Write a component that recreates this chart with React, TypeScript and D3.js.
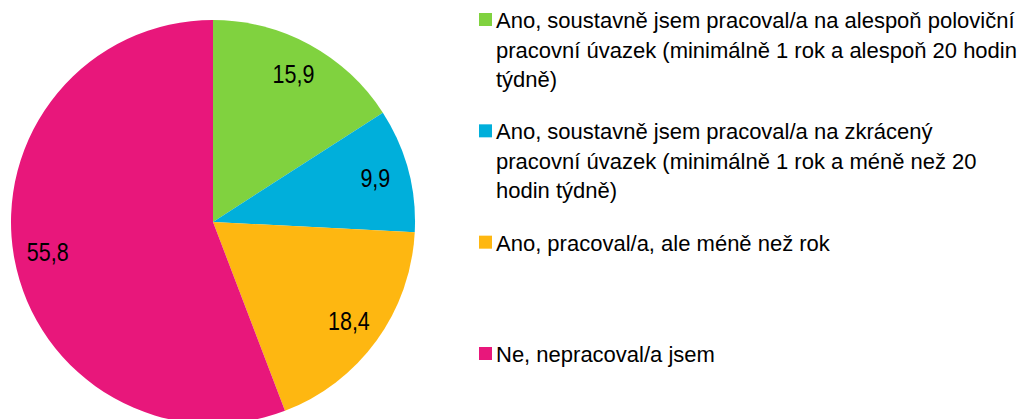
import React from 'react';
import * as d3 from 'd3';

// odpovědi a podíly (%)
const categories = [
  ['Ano, soustavně jsem pracoval/a na alespoň poloviční', 'pracovní úvazek (minimálně 1 rok a alespoň 20 hodin', 'týdně)'],
  ['Ano, soustavně jsem pracoval/a na zkrácený', 'pracovní úvazek (minimálně 1 rok a méně než 20', 'hodin týdně)'],
  ['Ano, pracoval/a, ale méně než rok'],
  ['Ne, nepracoval/a jsem'],
];
const values = [15.9, 9.9, 18.4, 55.8];
const valueLabels = ['15,9', '9,9', '18,4', '55,8'];
const colors = ['#80D23F', '#00AFDB', '#FEB711', '#E8177B'];

const W = 1017;
const H = 419;
const font = '"Liberation Sans", Arial, sans-serif';
// slice labels look condensed, squeeze them a bit
const labelNarrow = 0.86;

const App = () => {
  const cx = 213, cy = 222, r = 202;

  const pie = d3.pie<number>().sort(null).value(d => d);
  const arcs = pie(values);
  const arc = d3.arc<d3.PieArcDatum<number>>().innerRadius(0).outerRadius(r);
  const labelArc = d3.arc<d3.PieArcDatum<number>>().innerRadius(168).outerRadius(168);

  const legendY = d3.scaleLinear().domain([0, categories.length - 1]).range([28, 362]);
  const lineStep = 29.5;
  const textX = 496;

  return (
    <svg width={W} height={H} style={{ position: 'absolute', left: 0, top: 0, background: '#fff' }}>
      <g transform={`translate(${cx},${cy})`}>
        {arcs.map((a, i) => (
          <path key={i} d={arc(a) || ''} fill={colors[i]} />
        ))}
        {arcs.map((a, i) => {
          const [x, y] = labelArc.centroid(a);
          return (
            <text key={i} transform={`translate(${x},${y}) scale(${labelNarrow},1)`} dy="0.35em" textAnchor="middle"
              fontFamily={font} fontSize={25} fill="#000">
              {valueLabels[i]}
            </text>
          );
        })}
      </g>
      <g>
        {categories.map((lines, i) => {
          const by = legendY(i);
          return (
            <g key={i}>
              <rect x={479} y={by - 15} width={13} height={13} fill={colors[i]} />
              <text x={textX} y={by} fontFamily={font} fontSize={22} fill="#000">
                {lines.map((l, j) => (
                  <tspan key={j} x={textX} y={by + j * lineStep}>{l}</tspan>
                ))}
              </text>
            </g>
          );
        })}
      </g>
    </svg>
  );
};

export default App;
